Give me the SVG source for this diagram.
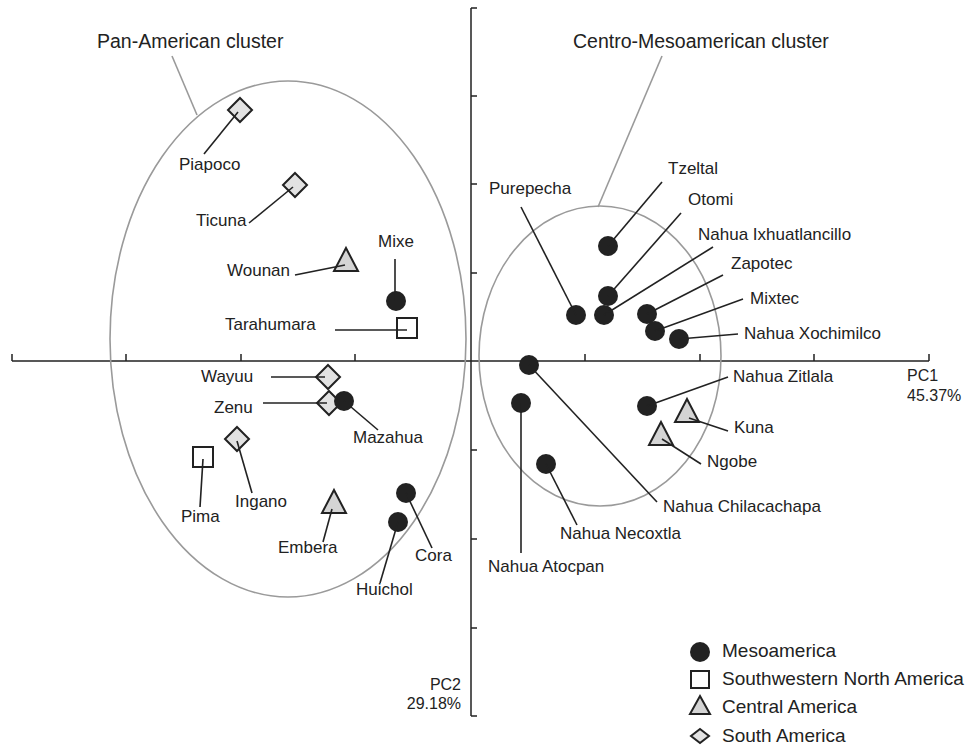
<svg xmlns="http://www.w3.org/2000/svg" width="968" height="746" viewBox="0 0 968 746">
<defs>
<style>
text{font-family:"Liberation Sans",Arial,sans-serif;fill:#222;stroke:none}
.lab{font-size:17px}
.clab{font-size:19.5px}
.leg{font-size:19px}
.ax{font-size:16px}
.axis{stroke:#222;stroke-width:1.5;fill:none}
.ell{stroke:#9a9a9a;stroke-width:1.6;fill:none}
.lead{stroke:#222;stroke-width:1.6;fill:none}
.meso{fill:#222}
.swna{fill:#fff;stroke:#222;stroke-width:2}
.cam{fill:#d4d4d4;stroke:#222;stroke-width:2;stroke-linejoin:miter}
.sam{fill:#e2e2e2;stroke:#222;stroke-width:2}
</style>
<circle id="circ" r="10"/>
<rect id="sq" x="-10" y="-10" width="20" height="20"/>
<polygon id="tri" points="0,-15 12,8 -12,8"/>
<polygon id="dia" points="0,-12 12,0 0,12 -12,0"/>
</defs>
<rect width="968" height="746" fill="#fff"/>

<g id="axes">
<path class="axis" d="M12,361H929M12,361V354M126,361V354M241,361V354M355,361V354M585,361V354M700,361V354M814,361V354M929,361V354"/>
<path class="axis" d="M471,8V716M471,8H477M471,96H477M471,184H477M471,273H477M471,450H477M471,539H477M471,628H477M471,716H477"/>
<text class="ax" x="907" y="381">PC1</text>
<text class="ax" x="907" y="401">45.37%</text>
<text class="ax" x="461" y="690" text-anchor="end">PC2</text>
<text class="ax" x="461" y="709" text-anchor="end">29.18%</text>
</g>

<g id="pan-american-cluster">
<ellipse class="ell" cx="288" cy="339" rx="178" ry="258"/>
<line class="ell" x1="172" y1="56" x2="197" y2="115"/>
<text class="clab" x="97" y="48">Pan-American cluster</text>
</g>
<g id="centro-mesoamerican-cluster">
<ellipse class="ell" cx="600" cy="356" rx="121" ry="150"/>
<line class="ell" x1="662" y1="56" x2="598" y2="207"/>
<text class="clab" x="573" y="48">Centro-Mesoamerican cluster</text>
</g>

<g id="nodes">
<g id="piapoco"><use href="#dia" class="sam" x="240" y="110"/><text class="lab" x="179" y="170">Piapoco</text></g>
<g id="ticuna"><use href="#dia" class="sam" x="295" y="185"/><text class="lab" x="196" y="226">Ticuna</text></g>
<g id="wounan"><use href="#tri" class="cam" x="346" y="263"/><text class="lab" x="227" y="276">Wounan</text></g>
<g id="mixe"><use href="#circ" class="meso" x="396" y="301"/><text class="lab" x="378" y="247">Mixe</text></g>
<g id="tarahumara"><use href="#sq" class="swna" x="407" y="328"/><text class="lab" x="225" y="330">Tarahumara</text></g>
<g id="zenu"><use href="#dia" class="sam" x="329" y="403"/><text class="lab" x="214" y="413">Zenu</text></g>
<g id="wayuu"><use href="#dia" class="sam" x="328" y="377"/><text class="lab" x="201" y="382">Wayuu</text></g>
<g id="mazahua"><use href="#circ" class="meso" x="344" y="401"/><text class="lab" x="353" y="443">Mazahua</text></g>
<g id="ingano"><use href="#dia" class="sam" x="237" y="439"/><text class="lab" x="235" y="507">Ingano</text></g>
<g id="pima"><use href="#sq" class="swna" x="203" y="457"/><text class="lab" x="181" y="522">Pima</text></g>
<g id="embera"><use href="#tri" class="cam" x="334" y="505"/><text class="lab" x="278" y="553">Embera</text></g>
<g id="cora"><use href="#circ" class="meso" x="406" y="493"/><text class="lab" x="415" y="561">Cora</text></g>
<g id="huichol"><use href="#circ" class="meso" x="398" y="522"/><text class="lab" x="356" y="595">Huichol</text></g>

<g id="tzeltal"><use href="#circ" class="meso" x="608" y="246"/><text class="lab" x="668" y="174">Tzeltal</text></g>
<g id="otomi"><use href="#circ" class="meso" x="608" y="296"/><text class="lab" x="688" y="205">Otomi</text></g>
<g id="purepecha"><use href="#circ" class="meso" x="576" y="315"/><text class="lab" x="489" y="194">Purepecha</text></g>
<g id="nahua-ixhuatlancillo"><use href="#circ" class="meso" x="604" y="315"/><text class="lab" x="698" y="240">Nahua Ixhuatlancillo</text></g>
<g id="zapotec"><use href="#circ" class="meso" x="647" y="314"/><text class="lab" x="731" y="269">Zapotec</text></g>
<g id="mixtec"><use href="#circ" class="meso" x="655" y="331"/><text class="lab" x="750" y="304">Mixtec</text></g>
<g id="nahua-xochimilco"><use href="#circ" class="meso" x="679" y="339"/><text class="lab" x="744" y="339">Nahua Xochimilco</text></g>
<g id="nahua-chilacachapa"><use href="#circ" class="meso" x="529" y="365"/><text class="lab" x="663" y="512">Nahua Chilacachapa</text></g>
<g id="nahua-atocpan"><use href="#circ" class="meso" x="521" y="403"/><text class="lab" x="488" y="572">Nahua Atocpan</text></g>
<g id="nahua-necoxtla"><use href="#circ" class="meso" x="546" y="464"/><text class="lab" x="560" y="539">Nahua Necoxtla</text></g>
<g id="nahua-zitlala"><use href="#circ" class="meso" x="647" y="406"/><text class="lab" x="733" y="382">Nahua Zitlala</text></g>
<g id="kuna"><use href="#tri" class="cam" x="687" y="414"/><text class="lab" x="734" y="433">Kuna</text></g>
<g id="ngobe"><use href="#tri" class="cam" x="661" y="437"/><text class="lab" x="707" y="467">Ngobe</text></g>
</g>

<g id="connectors" class="lead">
<line x1="204" y1="154" x2="238" y2="112"/>
<line x1="249" y1="223" x2="293" y2="187"/>
<line x1="295" y1="275" x2="345" y2="265"/>
<line x1="395" y1="259" x2="395" y2="301"/>
<line x1="335" y1="330" x2="407" y2="330"/>
<line x1="271" y1="377" x2="325" y2="377"/>
<line x1="263" y1="403" x2="327" y2="403"/>
<line x1="344" y1="401" x2="378" y2="430"/>
<line x1="237" y1="441" x2="252" y2="493"/>
<line x1="203" y1="459" x2="200" y2="507"/>
<line x1="332" y1="509" x2="323" y2="542"/>
<line x1="406" y1="493" x2="432" y2="548"/>
<line x1="398" y1="522" x2="380" y2="583"/>
<line x1="608" y1="246" x2="662" y2="182"/>
<line x1="608" y1="296" x2="681" y2="213"/>
<line x1="576" y1="315" x2="521" y2="207"/>
<line x1="604" y1="315" x2="713" y2="247"/>
<line x1="647" y1="314" x2="723" y2="275"/>
<line x1="655" y1="331" x2="743" y2="299"/>
<line x1="679" y1="339" x2="738" y2="334"/>
<line x1="529" y1="365" x2="657" y2="502"/>
<line x1="521" y1="403" x2="521" y2="553"/>
<line x1="546" y1="464" x2="577" y2="525"/>
<line x1="647" y1="406" x2="728" y2="377"/>
<line x1="689" y1="418" x2="728" y2="431"/>
<line x1="662" y1="439" x2="701" y2="464"/>
</g>

<g id="legend">
<circle class="meso" cx="700" cy="652" r="10"/>
<text class="leg" x="722" y="657">Mesoamerica</text>
<rect class="swna" x="691" y="671" width="18" height="17"/>
<text class="leg" x="722" y="685">Southwestern North America</text>
<polygon class="cam" points="700,696 710,714 690,714"/>
<text class="leg" x="722" y="713">Central America</text>
<polygon class="sam" points="700,729 709,736 700,743 691,736"/>
<text class="leg" x="722" y="742">South America</text>
</g>
</svg>
